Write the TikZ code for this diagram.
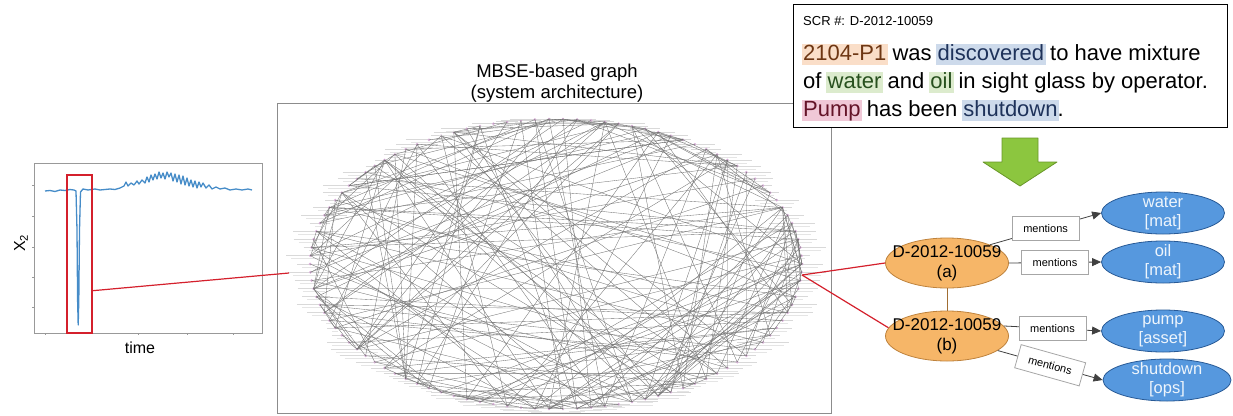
\documentclass[tikz,border=0pt]{standalone}
\usepackage{fontspec}
\setmainfont{Liberation Sans}
\usepackage{tikz}
\usetikzlibrary{arrows.meta,shapes.geometric,calc}

\definecolor{sigblue}{RGB}{70,140,200}
\definecolor{winred}{RGB}{212,32,44}
\definecolor{nodeorange}{RGB}{246,182,104}
\definecolor{edgeorange}{RGB}{190,130,60}
\definecolor{nodeblue}{RGB}{86,152,222}
\definecolor{edgeblue}{RGB}{40,90,150}
\definecolor{arrowgreen}{RGB}{140,198,63}
\definecolor{arrowedge}{RGB}{104,150,40}
\definecolor{hlorange}{RGB}{250,222,200}
\definecolor{txorange}{RGB}{110,55,20}
\definecolor{hlblue}{RGB}{205,218,235}
\definecolor{txblue}{RGB}{30,50,90}
\definecolor{hlgreen}{RGB}{220,235,205}
\definecolor{txgreen}{RGB}{40,80,30}
\definecolor{hlpink}{RGB}{240,200,215}
\definecolor{txpink}{RGB}{100,20,40}

\newcommand{\hlword}[3]{{\setlength{\fboxsep}{0pt}\kern-1.5pt\colorbox{#1}{\rule[-5pt]{0pt}{21pt}\kern1.5pt\textcolor{#2}{#3}\kern1.5pt}\kern-1.5pt}}

\begin{document}
\begin{tikzpicture}[
                    x=1pt, y=-1pt,
                    node distance=73pt,
                    axisline/.style={draw=black!40, line width=0.8pt},
                    signal/.style={draw=sigblue, line width=1.3pt, line join=round},
                    win/.style={draw=winred, line width=1.5pt, minimum width=25pt, minimum height=158pt, inner sep=0pt},
                    redlink/.style={draw=winred, line width=1.2pt},
                    chord/.style={draw=black!55, line width=0.35pt},
                    report/.style={draw=black, line width=0.9pt, fill=white, minimum width=434pt, minimum height=123pt},
                    sentence/.style={anchor=base west, inner sep=0pt, font=\fontsize{22}{28}\selectfont},
                    doc/.style={ellipse, draw=edgeorange, fill=nodeorange, line width=0.8pt,
                        minimum width=123pt, minimum height=50pt, inner xsep=-14pt, inner ysep=-6pt,
                        align=center, font=\fontsize{17}{20}\selectfont},
                    concept/.style={ellipse, draw=edgeblue, fill=nodeblue, line width=0.8pt, text=white!90!nodeblue,
                        minimum width=123pt, minimum height=42pt, inner xsep=-14pt, inner ysep=-8pt,
                        align=center, font=\fontsize{16.5}{19}\selectfont},
                    tag/.style={draw=black!35, fill=white, minimum width=67pt, minimum height=24pt,
                        inner sep=0pt, font=\fontsize{11}{13}\selectfont},
                    link/.style={draw=black!75, line width=0.8pt, -{Triangle[length=9pt,width=8pt]}}
                ]
    \useasboundingbox (0,0) rectangle (1233,415);

    % Sensor plot
    \draw[axisline] (34,163) rectangle (262,333);
    \foreach \ty in {185,216,247,277,307} \draw[axisline] (34,\ty) -- ++(-2,0);
    \foreach \tx in {45,138,187,233} \draw[axisline] (\tx,333) -- ++(0,2);
    \draw[signal] plot coordinates {(45,191) (50,190.5) (55,191.5) (60,190) (65,190.5) (70,189.5) (74,190)
        (76,191) (77,230) (77.6,300) (78.2,325) (78.8,300) (79.5,230) (80.5,192) (83,189) (88,190) (95,189)
        (100,190) (105,189.5) (110,189) (115,189.5) (120,188) (124,186) (126,182) (128,186) (131,183)
        (134,185) (137,181) (139,184) (142,180) (145,183) (147,177) (149,182) (151,175) (153,180) (155,174)
        (157,179) (159,172) (161,178) (163,173) (165,179) (167,172) (169,177) (171,173) (173,181) (175,174)
        (177,182) (179,175) (181,184) (183,176) (185,185) (187,178) (189,186) (191,180) (193,187) (195,181)
        (197,188) (199,182) (201,187) (203,183) (206,188) (209,185) (212,189) (216,187) (220,189) (225,188)
        (230,190) (236,189) (242,190) (248,189) (252,190)};
    \node[rotate=90, font=\fontsize{16}{18}\selectfont] (ylab) at (21,243) {X\textsubscript{2}};
    \node[font=\fontsize{16}{18}\selectfont] (xlab) at (140,348) {time};
    \node[win] (win) at (79.5,254) {};

    % MBSE graph
    \draw[draw=black!45, line width=0.8pt] (277,103) rectangle (831,413);
    \node[align=center, font=\fontsize{18.5}{21}\selectfont] (title) at (557,83) {MBSE-based graph\\(system architecture)};
    \pgfmathsetseed{7}
    \foreach \i in {1,...,110}{
        \pgfmathsetmacro{\ang}{\i/110*360}
        \coordinate (g\i) at ({556+246*cos(\ang)},{264+145*sin(\ang)});
    }
    \foreach \i in {1,...,110}{
        \pgfmathsetmacro{\len}{8+random(0,18)}
        \draw[gray!30, line width=0.9pt] ($(g\i)+(-\len,0)$) -- ($(g\i)+(\len,0)$);
        \draw[gray!20, line width=0.8pt] ($(g\i)+(-\len+5,3)$) -- ($(g\i)+(\len-5,3)$);
        \fill[violet!30] (g\i) circle (1.5pt);
    }
    \foreach \k in {1,...,230}{
        \pgfmathtruncatemacro{\ga}{random(1,110)}
        \pgfmathtruncatemacro{\gb}{random(1,110)}
        \draw[chord] (g\ga) -- (g\gb);
    }
    \coordinate (gl) at (289,273);
    \coordinate (gr) at (802,275);
    \draw[redlink] ($(win.south east)!0.27!(win.north east)$) -- (gl);

    % Report
    \node[report] (scr) at (1010,65.5) {};
    \node[anchor=base west, inner sep=0pt, font=\fontsize{13}{15}\selectfont] (scrid) at (803,25) {SCR \#: D-2012-10059};
    \node[sentence] (s1) at (803,60) {\hlword{hlorange}{txorange}{2104-P1} was \hlword{hlblue}{txblue}{discovered} to have mixture};
    \node[sentence] (s2) at (803,88) {of \hlword{hlgreen}{txgreen}{water} and \hlword{hlgreen}{txgreen}{oil} in sight glass by operator.};
    \node[sentence] (s3) at (803,116) {\hlword{hlpink}{txpink}{Pump} has been \hlword{hlblue}{txblue}{shutdown}.};
    \draw[fill=arrowgreen, draw=arrowedge, line width=0.8pt, line join=round]
        (1002,138) -- (1038,138) -- (1038,162) -- (1057,162) -- (1020,186) -- (983,162) -- (1002,162) -- cycle;

    % Knowledge graph
    \node[doc] (a) at (947,263) {D-2012-10059\\(a)};
    \node[doc] (b) [below of=a] {D-2012-10059\\(b)};
    \node[concept] (water) at (1163,213) {water\\{[mat]}};
    \node[concept] (oil) [below of=water, node distance=49pt] {oil\\{[mat]}};
    \node[concept] (pump) at (1163,331) {pump\\{[asset]}};
    \node[concept, minimum width=128pt] (shutdown) at (1167,380) {shutdown\\{[ops]}};

    % Edges
    \draw[redlink] (gr) -- (a.west);
    \draw[redlink] (gr) -- (b.172);
    \draw[draw=edgeorange!85!black, line width=0.9pt] (a) -- (b);
    \draw[link] (a.23) -- node[tag] {mentions} (water.west);
    \draw[link] (a.east) -- node[tag] {mentions} (oil.west);
    \draw[link] (b.10) -- node[tag] {mentions} (pump.west);
    \draw[link] (b.-16) -- node[tag, sloped] {mentions} (shutdown.west);
\end{tikzpicture}
\end{document}
